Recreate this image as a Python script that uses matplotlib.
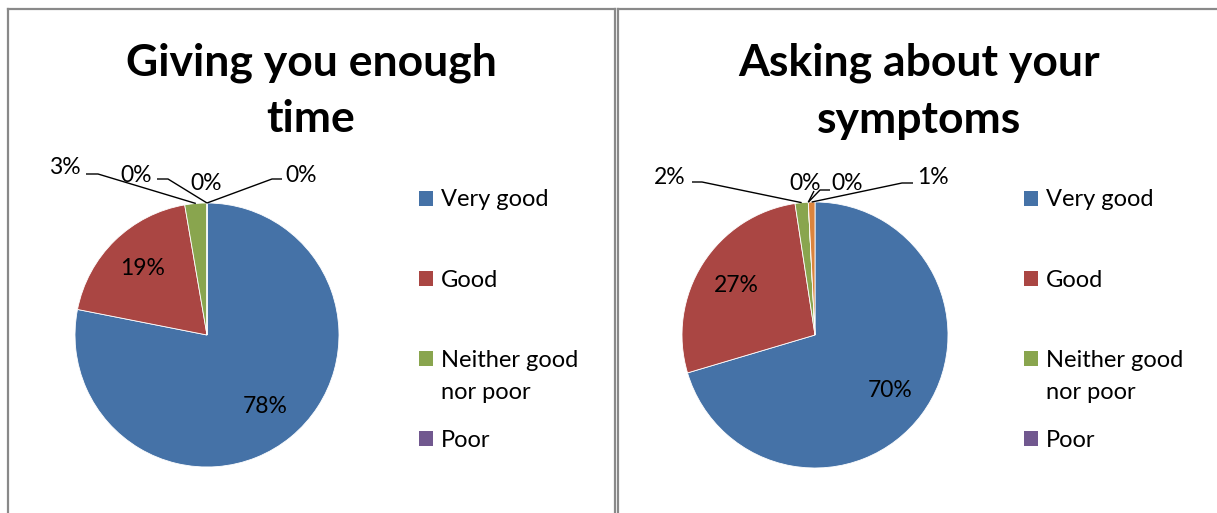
import matplotlib
matplotlib.use("Agg")
import matplotlib.pyplot as plt
from matplotlib.patches import Rectangle
import numpy as np

# ---------------- data ----------------
categories = ["Very good", "Good", "Neither good\nnor poor", "Poor", "Very poor", "Don't know"]
titles = ["Giving you enough\ntime", "Asking about your\nsymptoms"]
time_values = [78.1, 19.2, 2.7, 0.0, 0.0, 0.0]
symptom_values = [70.4, 27.2, 1.6, 0.0, 0.0, 0.8]
colors = ["#4572A7", "#AA4643", "#89A54E", "#71588F", "#4198AF", "#DB843D"]

# ---------------- layout (pixels) ----------------
W, H = 1217, 513
FONT = ["Lato", "DejaVu Sans"]
VISIBLE_LEGEND = 4   # the rest of the legend is cropped off in the reference

panels = [
    dict(values=time_values, title=titles[0], cx=207, cy=335, r=132,
         title_x=311, title_y=91, leg_x=419, leg_y0=198,
         small=[
             ((65, 168), [(86, 174), (98, 174)]),
             ((136, 175), [(157, 179), (168, 179)]),
             ((206, 183), None),
             ((301, 175), [(282, 179), (272, 179)]),
         ]),
    dict(values=symptom_values, title=titles[1], cx=815, cy=335, r=133,
         title_x=919, title_y=91, leg_x=1024, leg_y0=198,
         small=[
             ((670, 177), [(692, 182), (702, 182)]),
             ((805, 183), [(814, 191)]),
             ((847, 183), [(830, 190), (820, 190)]),
             ((933, 177), [(913, 183), (902, 183)]),
         ]),
]

fig = plt.figure(figsize=(W / 100, H / 100), dpi=100)
ax = fig.add_axes([0, 0, 1, 1])


def Y(y):
    return H - y


for p in panels:
    vals = p["values"]
    cx, cy, r = p["cx"], p["cy"], p["r"]
    wedges, _ = ax.pie(vals, colors=colors, startangle=90, counterclock=False,
                       center=(cx, Y(cy)), radius=r, frame=True,
                       wedgeprops=dict(linewidth=0.6, edgecolor="white"))
    mids = [np.deg2rad((w.theta1 + w.theta2) / 2) for w in wedges]
    labels = [f"{int(v + 0.5)}%" for v in vals]

    for i in range(2):
        d = 0.7 * r
        ax.text(cx + d * np.cos(mids[i]), Y(cy) + d * np.sin(mids[i]), labels[i],
                ha="center", va="center", fontsize=16.5, family=FONT, color="black")

    for j, (tpos, pts) in enumerate(p["small"]):
        i = j + 2
        ax.text(tpos[0], Y(tpos[1]), labels[i], ha="center", va="center",
                fontsize=16.5, family=FONT, color="black")
        if pts:
            ex = cx + r * np.cos(mids[i])
            ey = Y(cy) + r * np.sin(mids[i])
            xs = [q[0] for q in pts] + [ex]
            ys = [Y(q[1]) for q in pts] + [ey]
            ax.plot(xs, ys, color="black", lw=1.0, solid_capstyle="butt")

    ax.text(p["title_x"], Y(p["title_y"]), p["title"], ha="center", va="center",
            fontsize=32, fontweight="bold", family=FONT, linespacing=1.5)

    for k, cat in enumerate(categories[:VISIBLE_LEGEND]):
        yy = p["leg_y0"] + k * 80.3
        ax.add_patch(Rectangle((p["leg_x"], Y(yy + 7.5)), 14, 15,
                               facecolor=colors[k], edgecolor="none"))
        for n, line in enumerate(cat.split("\n")):
            ax.text(p["leg_x"] + 22, Y(yy + 8.5 + n * 32), line, ha="left",
                    va="baseline", fontsize=17, family=FONT)

bc = "#898989"
ax.plot([8, 8], [Y(9), -5], color=bc, lw=1.6)
ax.plot([8, 615], [Y(9), Y(9)], color=bc, lw=1.6)
ax.plot([615, 615], [Y(9), -5], color=bc, lw=1.6)
ax.plot([618, 618], [Y(9), -5], color=bc, lw=1.6)
ax.plot([618, W + 5], [Y(9), Y(9)], color=bc, lw=1.6)

ax.set_xlim(0, W)
ax.set_ylim(0, H)
ax.set_aspect("equal")
ax.axis("off")
fig.savefig("out.png", dpi=100, facecolor="white")
